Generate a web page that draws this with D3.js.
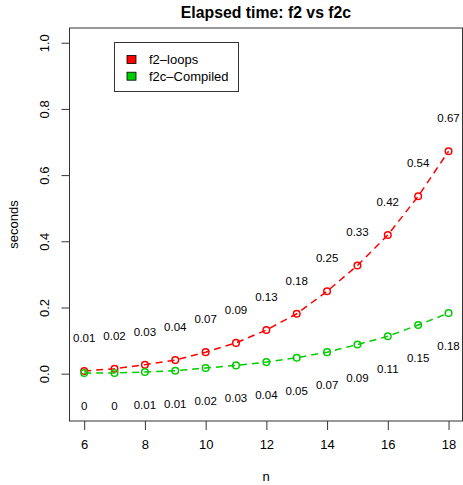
<!DOCTYPE html>
<html>
<head>
<meta charset="utf-8">
<script src="https://cdn.jsdelivr.net/npm/d3@7"></script>
<style>
  body { margin: 0; background: #fff; }
  svg { font-family: "Liberation Sans", Arial, sans-serif; }
</style>
</head>
<body>
<svg id="chart"></svg>
<script>
'use strict';

var nValues = [6, 7, 8, 9, 10, 11, 12, 13, 14, 15, 16, 17, 18];
var loopTimes = [0.008, 0.015, 0.027, 0.041, 0.065, 0.093, 0.132, 0.181, 0.249, 0.327, 0.419, 0.536, 0.672];
var compiledTimes = [0.002, 0.002, 0.005, 0.009, 0.017, 0.025, 0.035, 0.048, 0.065, 0.088, 0.113, 0.147, 0.183];
var xTicks = [6, 8, 10, 12, 14, 16, 18];
var yTicks = [0.0, 0.2, 0.4, 0.6, 0.8, 1.0];
var seriesNames = ['f2\u2013loops', 'f2c\u2013Compiled'];
var seriesColors = ['#ff0000', '#00cd00'];

var WIDTH = 463, HEIGHT = 485;
var PLOT = { left: 69.5, right: 462.5, top: 28, bottom: 421 };

var svg = d3.select('#chart')
  .attr('width', WIDTH)
  .attr('height', HEIGHT);

var xScale = d3.scaleLinear()
  .domain([5.516, 18.46])
  .range([PLOT.left, PLOT.right]);

var yScale = d3.scaleLinear()
  .domain([-0.143, 1.0445])
  .range([PLOT.bottom, PLOT.top]);

function fmt(v) {
  return String(Math.round(v * 100) / 100);
}

// title
svg.append('text')
  .attr('x', (PLOT.left + PLOT.right) / 2)
  .attr('y', 18)
  .attr('text-anchor', 'middle')
  .attr('font-weight', 'bold')
  .attr('font-size', '15.8px')
  .text('Elapsed time: f2 vs f2c');

// axes
var xAxis = d3.axisBottom(xScale)
  .tickValues(xTicks)
  .tickSize(9)
  .tickPadding(10)
  .tickFormat(d3.format('d'));

var yAxis = d3.axisLeft(yScale)
  .tickValues(yTicks)
  .tickSize(8)
  .tickFormat(d3.format('.1f'));

var gx = svg.append('g')
  .attr('class', 'x axis')
  .attr('transform', 'translate(0,' + PLOT.bottom + ')')
  .call(xAxis);
gx.select('.domain').attr('stroke', 'none');
gx.selectAll('line').attr('stroke', '#333');
gx.selectAll('text')
  .attr('font-size', '13px')
  .attr('font-family', 'Liberation Sans, Arial, sans-serif')
  .attr('fill', '#000');

var gy = svg.append('g')
  .attr('class', 'y axis')
  .attr('transform', 'translate(' + PLOT.left + ',0)')
  .call(yAxis);
gy.select('.domain').attr('stroke', 'none');
gy.selectAll('line').attr('stroke', '#333');
gy.selectAll('text')
  .attr('font-size', '13px')
  .attr('font-family', 'Liberation Sans, Arial, sans-serif')
  .attr('fill', '#000')
  .attr('text-anchor', 'middle')
  .attr('dy', null)
  .attr('x', null)
  .attr('transform', 'translate(-25,0) rotate(-90)')
  .attr('dominant-baseline', 'central');

// plot box
svg.append('rect')
  .attr('x', PLOT.left)
  .attr('y', PLOT.top)
  .attr('width', PLOT.right - PLOT.left)
  .attr('height', PLOT.bottom - PLOT.top)
  .attr('fill', 'none')
  .attr('stroke', '#333')
  .attr('stroke-width', 1);

// axis titles
svg.append('text')
  .attr('x', (PLOT.left + PLOT.right) / 2)
  .attr('y', 476)
  .attr('text-anchor', 'middle')
  .attr('dominant-baseline', 'central')
  .attr('font-size', '13px')
  .text('n');

svg.append('text')
  .attr('transform', 'translate(13,' + ((PLOT.top + PLOT.bottom) / 2) + ') rotate(-90)')
  .attr('text-anchor', 'middle')
  .attr('dominant-baseline', 'central')
  .attr('font-size', '13px')
  .text('seconds');

// series
var series = [
  { values: loopTimes, color: seriesColors[0], offset: 0.1 },
  { values: compiledTimes, color: seriesColors[1], offset: -0.1 }
];

var line = d3.line()
  .x(function(d, i) { return xScale(nValues[i]); })
  .y(function(d) { return yScale(d); });

series.forEach(function(s) {
  var g = svg.append('g');

  g.append('path')
    .datum(s.values)
    .attr('d', line)
    .attr('fill', 'none')
    .attr('stroke', s.color)
    .attr('stroke-width', 1.5)
    .attr('stroke-dasharray', '7,5');

  g.selectAll('circle')
    .data(s.values)
    .enter().append('circle')
    .attr('cx', function(d, i) { return xScale(nValues[i]); })
    .attr('cy', function(d) { return yScale(d); })
    .attr('r', 3.3)
    .attr('fill', 'none')
    .attr('stroke', s.color)
    .attr('stroke-width', 1.5);

  g.selectAll('text')
    .data(s.values)
    .enter().append('text')
    .attr('x', function(d, i) { return xScale(nValues[i]); })
    .attr('y', function(d) { return yScale(d + s.offset); })
    .attr('text-anchor', 'middle')
    .attr('dominant-baseline', 'central')
    .attr('font-size', '11.5px')
    .attr('fill', '#000')
    .text(function(d) { return fmt(d); });
});

// legend
var legend = svg.append('g');
legend.append('rect')
  .attr('x', 114.5)
  .attr('y', 42.5)
  .attr('width', 124)
  .attr('height', 49)
  .attr('fill', '#fff')
  .attr('stroke', '#333');

seriesNames.forEach(function(name, i) {
  var cy = 59.5 + i * 16.7;
  legend.append('rect')
    .attr('x', 127)
    .attr('y', cy - 4)
    .attr('width', 9)
    .attr('height', 8)
    .attr('fill', seriesColors[i])
    .attr('stroke', '#000')
    .attr('stroke-width', 0.8);
  legend.append('text')
    .attr('x', 149)
    .attr('y', cy)
    .attr('dominant-baseline', 'central')
    .attr('font-size', '13px')
    .text(name);
});
</script>
</body>
</html>
